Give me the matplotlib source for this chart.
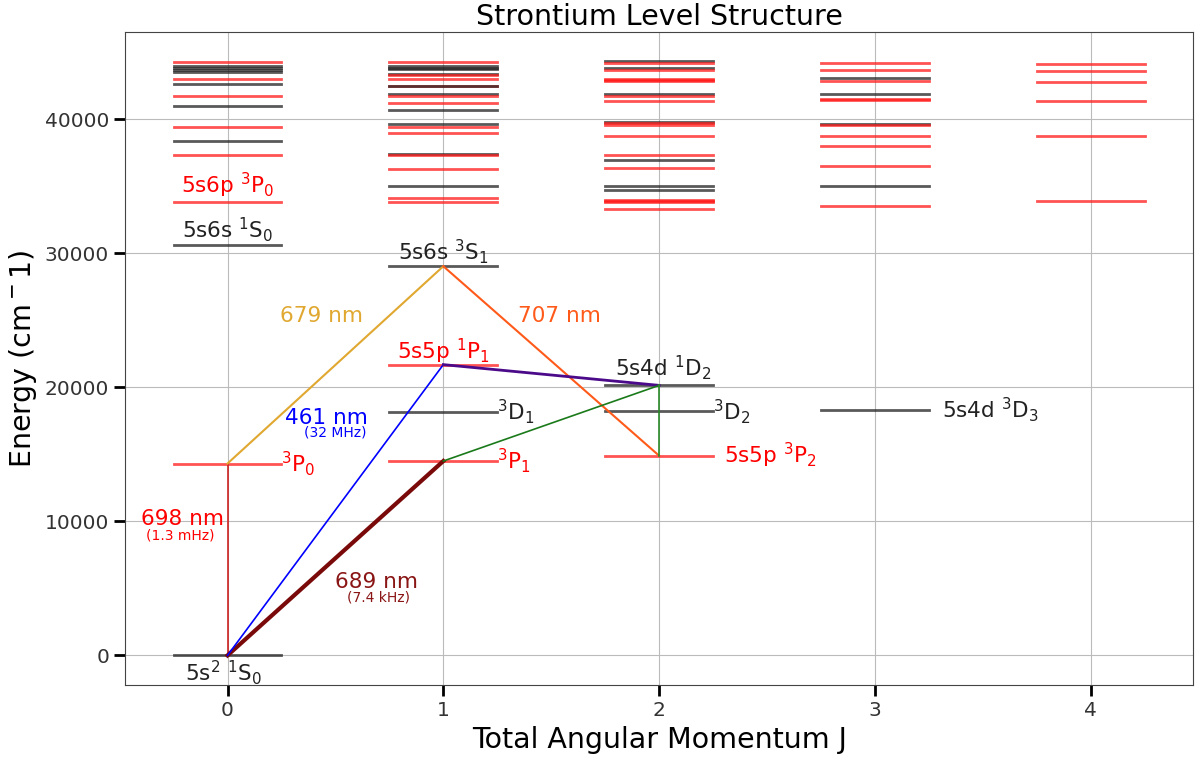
import matplotlib
matplotlib.use('Agg')
import matplotlib.pyplot as plt

# main levels (J, energy cm^-1, parity colour)
main_J = [0, 0, 0, 0, 1, 1, 1, 1, 2, 2, 2, 3]
main_E = [0, 14317.5, 30591.8, 33853.9, 14504.3, 18159.0, 21698.5, 29038.8,
          14898.5, 18218.8, 20149.7, 18319.3]
main_C = ['k', 'r', 'k', 'r', 'r', 'k', 'r', 'k', 'r', 'k', 'k', 'k']

# upper levels
J0_E = [44250, 44020, 43820, 43650, 43500, 42980, 42610, 41740, 41020, 39400, 38410, 37320]
J0_C = ['r', 'k', 'k', 'k', 'k', 'r', 'k', 'r', 'k', 'r', 'k', 'r']
J1_E = [44250, 44020, 43870, 43770, 43400, 43280, 42980, 42460, 42460, 41890, 41710,
        41190, 40720, 39680, 39400, 38960, 37420, 37320, 36280, 35010, 34140, 33840]
J1_C = ['r', 'k', 'k', 'k', 'k', 'r', 'r', 'r', 'k', 'k', 'r',
        'r', 'k', 'k', 'r', 'r', 'k', 'r', 'r', 'k', 'r', 'r']
J2_E = [44320, 44170, 43820, 43650, 43030, 42950, 42880, 41890, 41740, 41340, 39800,
        39700, 39550, 38760, 37350, 37000, 36380, 35030, 34730, 34010, 33930, 33840, 33320]
J2_C = ['k', 'r', 'k', 'r', 'r', 'r', 'r', 'k', 'r', 'r', 'k',
        'r', 'r', 'r', 'r', 'k', 'r', 'k', 'k', 'r', 'r', 'r', 'r']
J3_E = [44200, 43650, 43080, 42830, 41910, 41500, 41420, 39650, 39600, 38780, 38040,
        36520, 35010, 33570]
J3_C = ['r', 'r', 'k', 'r', 'k', 'r', 'r', 'k', 'r', 'r', 'r', 'r', 'k', 'r']
J4_E = [44140, 43600, 42780, 41340, 38760, 33940]
J4_C = ['r', 'r', 'r', 'r', 'r', 'r']

plt.rcParams['font.family'] = 'DejaVu Sans'
fig = plt.figure(figsize=(11.95, 7.57), dpi=100)
ax = fig.add_axes([0.1046, 0.095, 0.894, 0.863])

colmap = {'r': '#ff1a1a', 'k': '#222222'}


def level(j, e, c):
    ax.plot([j - 0.25, j + 0.25], [e, e], color=colmap[c], lw=2, alpha=0.75, zorder=2)


for j, e, c in zip(main_J, main_E, main_C):
    level(j, e, c)
for j, es, cs in [(0, J0_E, J0_C), (1, J1_E, J1_C), (2, J2_E, J2_C), (3, J3_E, J3_C), (4, J4_E, J4_C)]:
    for e, c in zip(es, cs):
        level(j, e, c)

g = main_E[0]
p30, p31, p32 = main_E[1], main_E[4], main_E[8]
p11, s31, d12 = main_E[6], main_E[7], main_E[10]

# transitions
ax.plot([0, 0], [g, p30], color='#cc2222', lw=1.2, zorder=3)
ax.plot([0, 1], [g, p31], color='#7a0a0a', lw=3, zorder=3)
ax.plot([0, 1], [g, p11], color='blue', lw=1.2, zorder=3)
ax.plot([0, 1], [p30, s31], color='#e0a830', lw=1.5, zorder=3)
ax.plot([1, 2], [s31, p32], color='#ff5a1a', lw=1.5, zorder=3)
ax.plot([1, 2], [p11, d12], color='#4b0a8a', lw=2, zorder=3)
ax.plot([1, 2], [p31, d12], color='#1a7a1a', lw=1.2, zorder=3)
ax.plot([2, 2], [d12, p32], color='#2a8a2a', lw=1.2, zorder=3)

fs = 15.5
dark = '#222222'
ax.text(-0.02, -1300, r'5s$^2$ $^1$S$_0$', ha='center', va='center', fontsize=fs, color=dark)
ax.text(0.25, p30, r'$^3$P$_0$', ha='left', va='center', fontsize=fs, color='red')
ax.text(-0.21, 10200, '698 nm', ha='center', va='center', fontsize=fs, color='red')
ax.text(-0.22, 8950, '(1.3 mHz)', ha='center', va='center', fontsize=10, color='red')
ax.text(0.46, 17700, '461 nm', ha='center', va='center', fontsize=fs, color='blue')
ax.text(0.5, 16600, '(32 MHz)', ha='center', va='center', fontsize=10, color='blue')
ax.text(0.69, 5500, '689 nm', ha='center', va='center', fontsize=fs, color='#8a1515')
ax.text(0.70, 4350, '(7.4 kHz)', ha='center', va='center', fontsize=10, color='#8a1515')
ax.text(0.435, 25300, '679 nm', ha='center', va='center', fontsize=fs, color='#e0a830')
ax.text(1.54, 25300, '707 nm', ha='center', va='center', fontsize=fs, color='#ff5a1a')
ax.text(0.0, 31750, r'5s6s $^1$S$_0$', ha='center', va='center', fontsize=fs, color=dark)
ax.text(0.0, 35100, r'5s6p $^3$P$_0$', ha='center', va='center', fontsize=fs, color='red')
ax.text(1.0, 30100, r'5s6s $^3$S$_1$', ha='center', va='center', fontsize=fs, color=dark)
ax.text(1.0, 22700, r'5s5p $^1$P$_1$', ha='center', va='center', fontsize=fs, color='red')
ax.text(1.25, main_E[5], r'$^3$D$_1$', ha='left', va='center', fontsize=fs, color=dark)
ax.text(1.25, p31, r'$^3$P$_1$', ha='left', va='center', fontsize=fs, color='red')
ax.text(2.02, 21500, r'5s4d $^1$D$_2$', ha='center', va='center', fontsize=fs, color=dark)
ax.text(2.25, main_E[9], r'$^3$D$_2$', ha='left', va='center', fontsize=fs, color=dark)
ax.text(2.3, p32, r'5s5p $^3$P$_2$', ha='left', va='center', fontsize=fs, color='red')
ax.text(3.31, main_E[11], r'5s4d $^3$D$_3$', ha='left', va='center', fontsize=fs, color=dark)

ax.set_title('Strontium Level Structure', fontsize=20.5, pad=5)
ax.set_xlabel('Total Angular Momentum J', fontsize=20.5)
ax.set_ylabel(r'Energy (cm$^-1$)', fontsize=20.5)
ax.set_xticks([0, 1, 2, 3, 4])
ax.set_yticks([0, 10000, 20000, 30000, 40000])
ax.tick_params(labelsize=14.5, length=8, width=2, labelcolor='#333333')
ax.grid(True, color='#bbbbbb', lw=0.8, zorder=0)
ax.set_axisbelow(True)
for s in ax.spines.values():
    s.set_color('#444444')
    s.set_linewidth(0.8)

fig.savefig('out.png', dpi=100)
